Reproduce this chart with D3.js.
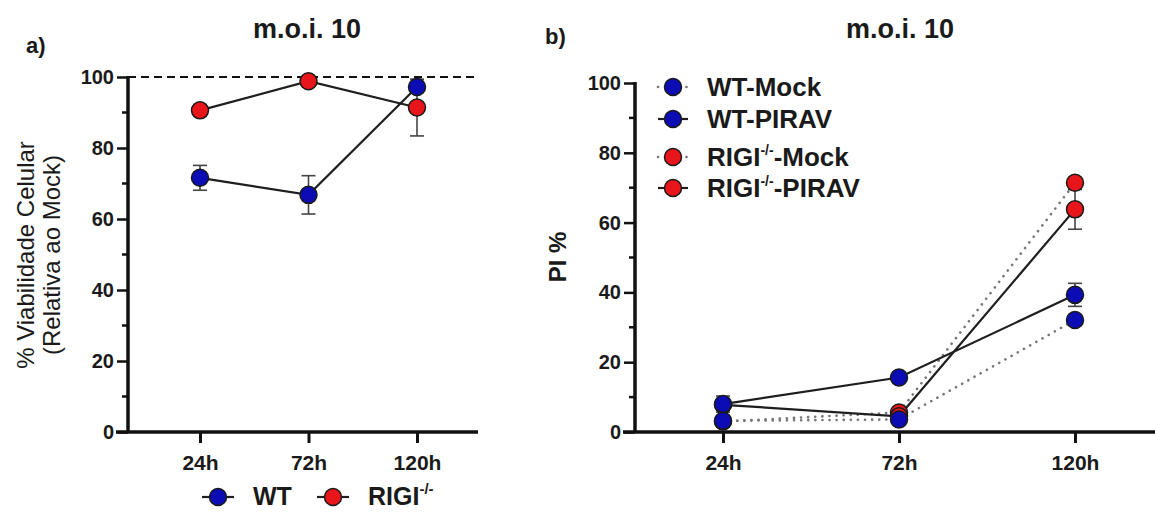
<!DOCTYPE html>
<html>
<head>
<meta charset="utf-8">
<script src="https://cdn.jsdelivr.net/npm/d3@7"></script>
<style>
  body { margin: 0; background: #fff; }
  svg text { font-family: "Liberation Sans", Arial, sans-serif; fill: #1a1a1a; }
</style>
</head>
<body>
<svg id="fig" width="1155" height="512"></svg>
<script>
// Data
const times = ['24h', '72h', '120h'];
const yTicks = [0, 20, 40, 60, 80, 100];
const yMinor = [10, 30, 50, 70, 90];

// a) viabilidade
const viabWT = [71.6, 66.8, 97.2];
const viabWTErr = [3.5, 5.4, 1.5];
const viabRIGI = [90.6, 98.8, 91.4];
const viabRIGIErr = [0.8, 0.6, 8.0];

// b) PI %
const piWTMock = [3.2, 3.6, 32.1];
const piWTPirav = [8.0, 15.6, 39.3];
const piWTPiravErr = [2.3, 0.8, 3.3];
const piRIGIMock = [3.0, 5.6, 71.4];
const piRIGIPirav = [7.8, 4.5, 63.8];
const piRIGIPiravErr = [1.5, 1.0, 5.7];

const BLUE = '#0c0cb4', RED = '#e8161b';
const svg = d3.select('#fig');

// ---- helpers
function drawAxes(g, x, y, x0, x1) {
  const yAxis = d3.axisLeft(y).tickValues(yTicks).tickSize(11).tickPadding(3).tickSizeOuter(0);
  const ya = g.append('g').attr('transform', `translate(${x0},0)`).call(yAxis);
  ya.select('.domain').remove();
  ya.selectAll('line').attr('stroke', '#111').attr('stroke-width', 2.5);
  ya.selectAll('text').style('font-size', '20px').style('font-weight', 'bold');
  g.selectAll('.minor').data(yMinor).enter().append('line')
    .attr('x1', x0 - 6).attr('x2', x0).attr('y1', d => y(d)).attr('y2', d => y(d))
    .attr('stroke', '#111').attr('stroke-width', 2.5);

  const xAxis = d3.axisBottom(x).tickSize(11).tickPadding(12).tickSizeOuter(0);
  const xa = g.append('g').attr('transform', `translate(0,${y(0)})`).call(xAxis);
  xa.select('.domain').remove();
  xa.selectAll('line').attr('stroke', '#111').attr('stroke-width', 3);
  xa.selectAll('text').style('font-size', '21px').style('font-weight', 'bold');

  g.append('line').attr('x1', x0).attr('x2', x0).attr('y1', y(100) - 1).attr('y2', y(0))
    .attr('stroke', '#111').attr('stroke-width', 3.5);
  g.append('line').attr('x1', x0 - 12).attr('x2', x1).attr('y1', y(0)).attr('y2', y(0))
    .attr('stroke', '#111').attr('stroke-width', 3.5);
}

function drawSeries(g, x, y, vals, errs, color, dotted) {
  const pts = times.map((t, i) => ({ t, v: vals[i], e: errs ? errs[i] : 0 }));
  const line = d3.line().x(d => x(d.t)).y(d => y(d.v));
  g.append('path').datum(pts).attr('d', line).attr('fill', 'none')
    .attr('stroke', dotted ? '#777' : '#1e1e1e')
    .attr('stroke-width', dotted ? 2.6 : 2.2)
    .attr('stroke-linecap', dotted ? 'round' : 'butt')
    .attr('stroke-dasharray', dotted ? '0.1,7' : null);
  return pts;
}

function drawErr(g, x, y, pts) {
  pts.filter(d => d.e > 0).forEach(d => {
    const cx = x(d.t);
    g.append('line').attr('x1', cx).attr('x2', cx).attr('y1', y(d.v + d.e)).attr('y2', y(d.v - d.e))
      .attr('stroke', '#444').attr('stroke-width', 1.6);
    [d.v + d.e, d.v - d.e].forEach(v => g.append('line')
      .attr('x1', cx - 7).attr('x2', cx + 7).attr('y1', y(v)).attr('y2', y(v))
      .attr('stroke', '#444').attr('stroke-width', 1.6));
  });
}

function drawDots(g, x, y, pts, color) {
  g.selectAll(null).data(pts).enter().append('circle')
    .attr('cx', d => x(d.t)).attr('cy', d => y(d.v)).attr('r', 8.5)
    .attr('fill', color).attr('stroke', '#1a1a1a').attr('stroke-width', 1.5);
}

// ================= panel a =================
const ga = svg.append('g');
const xa = d3.scalePoint().domain(times).range([200, 417]);
const ya = d3.scaleLinear().domain([0, 100]).range([432, 77]);
drawAxes(ga, xa, ya, 128, 478);

ga.append('line').attr('x1', 128).attr('x2', 478).attr('y1', ya(100)).attr('y2', ya(100))
  .attr('stroke', '#111').attr('stroke-width', 2.2).attr('stroke-dasharray', '8,5');

const pRIGI = drawSeries(ga, xa, ya, viabRIGI, viabRIGIErr, RED, false);
const pWT = drawSeries(ga, xa, ya, viabWT, viabWTErr, BLUE, false);
drawErr(ga, xa, ya, pRIGI);
drawErr(ga, xa, ya, pWT);
drawDots(ga, xa, ya, pRIGI, RED);
drawDots(ga, xa, ya, pWT, BLUE);

ga.append('text').attr('x', 307).attr('y', 38).attr('text-anchor', 'middle')
  .style('font-size', '27px').style('font-weight', 'bold').text('m.o.i. 10');
ga.append('text').attr('x', 26).attr('y', 53)
  .style('font-size', '22px').style('font-weight', 'bold').text('a)');

const ylab = ga.append('text').attr('transform', 'translate(0,255) rotate(-90)')
  .attr('text-anchor', 'middle').style('font-size', '24px');
ylab.append('tspan').attr('x', 0).attr('y', 34).text('% Viabilidade Celular');
ylab.append('tspan').attr('x', 0).attr('y', 60).text('(Relativa ao Mock)');

// legend a
const legA = [
  { name: 'WT', color: BLUE, x: 218 },
  { name: 'RIGI', color: RED, x: 333, sup: '-/-' }
];
legA.forEach(d => {
  ga.append('line').attr('x1', d.x - 16).attr('x2', d.x + 16).attr('y1', 497).attr('y2', 497)
    .attr('stroke', '#1e1e1e').attr('stroke-width', 2.2);
  ga.append('circle').attr('cx', d.x).attr('cy', 497).attr('r', 8.5)
    .attr('fill', d.color).attr('stroke', '#1a1a1a').attr('stroke-width', 1.5);
  const t = ga.append('text').attr('x', d.x + 35).attr('y', 505)
    .style('font-size', '25px').style('font-weight', 'bold').text(d.name);
  if (d.sup) t.append('tspan').attr('dy', -11).style('font-size', '15px').text(d.sup);
});

// ================= panel b =================
const gb = svg.append('g');
const xb = d3.scalePoint().domain(times).range([723, 1075]);
const yb = d3.scaleLinear().domain([0, 100]).range([432, 83]);
drawAxes(gb, xb, yb, 635, 1155);

const series = [
  { name: 'RIGI', sup: '-/-', tail: '-Mock', vals: piRIGIMock, errs: null, color: RED, dotted: true },
  { name: 'RIGI', sup: '-/-', tail: '-PIRAV', vals: piRIGIPirav, errs: piRIGIPiravErr, color: RED, dotted: false },
  { name: 'WT-Mock', vals: piWTMock, errs: null, color: BLUE, dotted: true },
  { name: 'WT-PIRAV', vals: piWTPirav, errs: piWTPiravErr, color: BLUE, dotted: false }
];
const bpts = series.map(s => drawSeries(gb, xb, yb, s.vals, s.errs, s.color, s.dotted));
bpts.forEach(p => drawErr(gb, xb, yb, p));
bpts.forEach((p, i) => drawDots(gb, xb, yb, p, series[i].color));

gb.append('text').attr('x', 900).attr('y', 38).attr('text-anchor', 'middle')
  .style('font-size', '27px').style('font-weight', 'bold').text('m.o.i. 10');
gb.append('text').attr('x', 545).attr('y', 44)
  .style('font-size', '22px').style('font-weight', 'bold').text('b)');
gb.append('text').attr('transform', 'translate(566,257) rotate(-90)')
  .attr('text-anchor', 'middle').style('font-size', '24px').style('font-weight', 'bold').text('PI %');

// legend b
const legOrder = [2, 3, 0, 1];
const legY = [87, 119, 157, 188];
legOrder.forEach((si, k) => {
  const s = series[si], cy = legY[k];
  gb.append('line').attr('x1', 658).attr('x2', 688).attr('y1', cy).attr('y2', cy)
    .attr('stroke', s.dotted ? '#777' : '#1e1e1e').attr('stroke-width', s.dotted ? 2.6 : 2.2)
    .attr('stroke-linecap', s.dotted ? 'round' : 'butt')
    .attr('stroke-dasharray', s.dotted ? '0.1,7' : null);
  gb.append('circle').attr('cx', 673).attr('cy', cy).attr('r', 8.5)
    .attr('fill', s.color).attr('stroke', '#1a1a1a').attr('stroke-width', 1.5);
  const t = gb.append('text').attr('x', 707).attr('y', cy + 9)
    .style('font-size', '26px').style('font-weight', 'bold').text(s.name);
  if (s.sup) {
    t.append('tspan').attr('dy', -11).style('font-size', '14px').text(s.sup);
    t.append('tspan').attr('dy', 11).text(s.tail);
  }
});
</script>
</body>
</html>
